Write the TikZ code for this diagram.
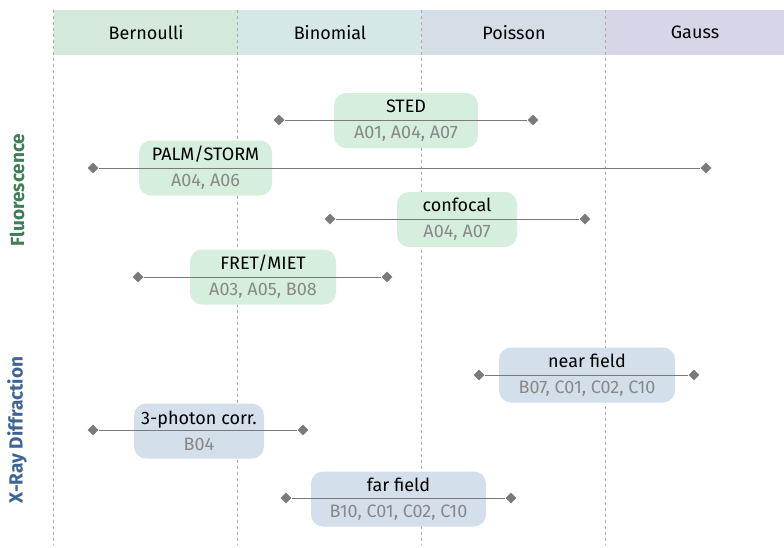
\documentclass[tikz,border=0pt]{standalone}
\usepackage{fontspec}
\setmainfont{Fira Sans}
\usetikzlibrary{shapes.geometric}
\definecolor{bernfill}{HTML}{D5E8DC}
\definecolor{binofill}{HTML}{D5E7E7}
\definecolor{poisfill}{HTML}{D5DDE7}
\definecolor{gaussfill}{HTML}{D7D5E8}
\definecolor{fluofill}{HTML}{D5EEDD}
\definecolor{xrayfill}{HTML}{D3DFEA}
\definecolor{fluotext}{HTML}{3E7D55}
\definecolor{xraytext}{HTML}{3D6494}
\definecolor{refgray}{HTML}{888888}
\definecolor{tipgray}{HTML}{7A7A7A}
\definecolor{sepgray}{HTML}{AAAAAA}

\begin{document}
\begin{tikzpicture}[x=1pt, y=-1pt, font=\fontsize{18}{26}\selectfont,
    head/.style = {minimum height=45pt, inner sep=0pt},
    box/.style = {rounded corners=12pt, minimum height=55pt, align=center, inner sep=0pt},
    fluo/.style = {box, fill=fluofill},
    xray/.style = {box, fill=xrayfill},
    tip/.style = {diamond, fill=tipgray, minimum size=11pt, inner sep=0pt},
    spanline/.style = {draw=tipgray, line width=1pt},
    sep/.style = {draw=sepgray, dashed, line width=0.9pt}]
    \useasboundingbox (0,0) rectangle (784,547);

    % distributions
    \node[head, fill=bernfill, minimum width=184pt] (bern) at (146,32.5) {Bernoulli};
    \node[head, fill=binofill, minimum width=184pt] (bino) at (330,32.5) {Binomial};
    \node[head, fill=poisfill, minimum width=184pt] (pois) at (514,32.5) {Poisson};
    \node[head, fill=gaussfill, minimum width=178pt] (gauss) at (695,32.5) {Gauss};
    \foreach \n in {bern, bino, pois, gauss}
      \draw[sep] (\n.north west) -- (\n.north west |- 0,545);

    % methods
    \node[rotate=90, font=\fontsize{19}{22}\selectfont\bfseries, text=fluotext] (fluo) at (17,190) {Fluorescence};
    \node[rotate=90, font=\fontsize{19}{22}\selectfont\bfseries, text=xraytext] (xray) at (17,430) {X-Ray Diffraction};

    \node[fluo, minimum width=144pt] (sted) at (406,120.5) {STED\\\textcolor{refgray}{A01, A04, A07}};
    \node[fluo, minimum width=133pt] (palm) at (205.5,168) {PALM/STORM\\\textcolor{refgray}{A04, A06}};
    \node[fluo, minimum width=120pt] (conf) at (457,219.5) {confocal\\\textcolor{refgray}{A04, A07}};
    \node[fluo, minimum width=146pt] (fret) at (263,277) {FRET/MIET\\\textcolor{refgray}{A03, A05, B08}};
    \node[xray, minimum width=176pt] (near) at (587,375) {near field\\\textcolor{refgray}{B07, C01, C02, C10}};
    \node[xray, minimum width=130pt] (corr) at (199,431) {3-photon corr.\\\textcolor{refgray}{B04}};
    \node[xray, minimum width=175pt] (far) at (398.5,499) {far field\\\textcolor{refgray}{B10, C01, C02, C10}};

    % ranges
    \node[tip] (sted-l) at (279,120) {};
    \node[tip] (sted-r) at (533,120) {};
    \node[tip] (palm-l) at (93,168) {};
    \node[tip] (palm-r) at (706,168) {};
    \node[tip] (conf-l) at (330,219) {};
    \node[tip] (conf-r) at (585,219) {};
    \node[tip] (fret-l) at (138,277) {};
    \node[tip] (fret-r) at (387,277) {};
    \node[tip] (near-l) at (479,375) {};
    \node[tip] (near-r) at (694,375) {};
    \node[tip] (corr-l) at (93,430) {};
    \node[tip] (corr-r) at (303,430) {};
    \node[tip] (far-l) at (286,498) {};
    \node[tip] (far-r) at (511,498) {};
    \foreach \n in {sted, palm, conf, fret, near, corr, far}
      \draw[spanline] (\n-l) -- (\n-r);
\end{tikzpicture}
\end{document}
